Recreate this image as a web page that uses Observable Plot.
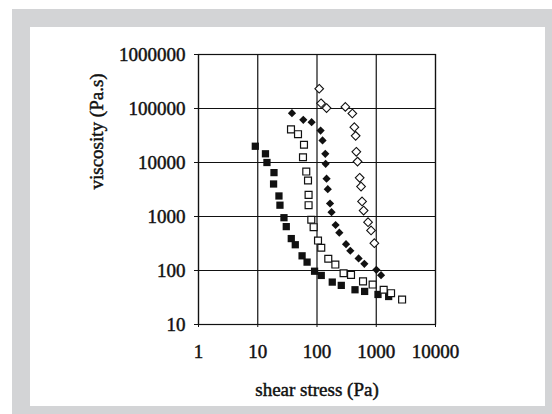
<!DOCTYPE html>
<html>
<head>
<meta charset="utf-8">
<script src="https://cdn.jsdelivr.net/npm/d3@7"></script>
<script src="https://cdn.jsdelivr.net/npm/@observablehq/plot@0.6"></script>
<style>
  html, body { margin: 0; padding: 0; background: #ffffff; }
  #wrap { position: relative; width: 552px; height: 414px; overflow: hidden; background: #ffffff; }
  #outer { position: absolute; left: 12px; top: 9px; width: 540px; height: 405px; background: #d3d4d6; }
  #inner { position: absolute; left: 30px; top: 27px; width: 515px; height: 379px; background: #ffffff; }
  #chart { position: absolute; left: 0; top: 0; }
  #chart svg text { stroke: #111; stroke-width: 0.45px; }
</style>
</head>
<body>
<div id="wrap">
  <div id="outer"></div>
  <div id="inner"></div>
  <div id="chart"></div>
</div>
<script>
// Tick values / labels
const xTicks = [1, 10, 100, 1000, 10000];
const yTicks = [10, 100, 1000, 10000, 100000, 1000000];
const xTitle = "shear stress (Pa)";
const yTitle = "viscosity (Pa.s)";

// Series 1: filled squares
const filledSquareX = [9.1, 13.5, 14.3, 18.8, 18.5, 22.8, 23.7, 27.7, 30.3, 36.8, 43, 56, 68, 91, 118, 181, 257, 438, 637, 1070, 1620];
const filledSquareY = [20000, 14500, 10000, 6500, 4000, 2400, 1620, 950, 650, 390, 300, 187, 143, 97, 81, 61, 53, 44, 41, 36, 33];

// Series 2: open squares
const openSquareX = [36.4, 47.8, 60.3, 58, 65.9, 70.5, 72.1, 72.1, 80.1, 87.7, 104, 118, 155, 204, 281, 375, 598, 869, 1334, 1778, 2730];
const openSquareY = [41000, 33400, 21300, 12500, 6800, 4640, 2520, 1620, 870, 634, 359, 264, 165, 129, 89, 83, 63, 55, 44, 38, 29];

// Series 3: filled diamonds
const filledDiamondX = [37.8, 58.7, 81.1, 115, 124, 138, 140, 145, 152, 166, 176, 206, 238, 309, 365, 504, 630, 1004, 1205];
const filledDiamondY = [82000, 61800, 55800, 39100, 25600, 14500, 9460, 5010, 3200, 1740, 1200, 696, 501, 307, 232, 167, 133, 103, 82];

// Series 4: open diamonds
const openDiamondX = [109, 117, 145, 301, 395, 427, 449, 461, 483, 525, 554, 576, 612, 727, 817, 929];
const openDiamondY = [232000, 125000, 102000, 107000, 80800, 45000, 31200, 15800, 10400, 5210, 3590, 1900, 1290, 784, 551, 320];

const toRows = (xs, ys) => xs.map((x, i) => ({x, y: ys[i]}));
const s1 = toRows(filledSquareX, filledSquareY);
const s2 = toRows(openSquareX, openSquareY);
const s3 = toRows(filledDiamondX, filledDiamondY);
const s4 = toRows(openDiamondX, openDiamondY);

const ink = "#111";
const fmt = d => String(d);

const chart = Plot.plot({
  width: 552,
  height: 414,
  marginLeft: 198,
  marginRight: 117,
  marginTop: 54,
  marginBottom: 90,
  style: {background: "transparent", fontFamily: "'Liberation Serif', 'Times New Roman', serif", fontSize: "19px", color: ink, overflow: "visible"},
  x: {type: "log", domain: [1, 10000]},
  y: {type: "log", domain: [10, 1000000]},
  marks: [
    Plot.gridX(xTicks, {stroke: ink, strokeOpacity: 1, strokeWidth: 1.2}),
    Plot.gridY(yTicks, {stroke: ink, strokeOpacity: 1, strokeWidth: 1.2}),
    Plot.frame({stroke: ink, strokeWidth: 1.2}),
    Plot.axisX(xTicks, {tickSize: 3, tickPadding: 17, tickFormat: fmt, label: null, fontSize: 19, stroke: ink}),
    Plot.axisY(yTicks, {tickSize: 4, tickPadding: 9, tickFormat: fmt, label: null, fontSize: 19, stroke: ink}),
    Plot.dot(s1, {x: "x", y: "y", symbol: "square", r: 4.1, fill: ink, stroke: "none"}),
    Plot.dot(s2, {x: "x", y: "y", symbol: "square", r: 3.9, fill: "white", stroke: ink, strokeWidth: 1.2}),
    Plot.dot(s3, {x: "x", y: "y", symbol: "diamond2", r: 3.7, fill: ink, stroke: "none"}),
    Plot.dot(s4, {x: "x", y: "y", symbol: "diamond2", r: 3.9, fill: "white", stroke: ink, strokeWidth: 1.1}),
    Plot.text([xTitle], {text: d => d, frameAnchor: "bottom", dy: 65, fontSize: 19, fill: ink, lineAnchor: "middle"}),
    Plot.text([yTitle], {text: d => d, frameAnchor: "left", dx: -102, rotate: -90, fontSize: 19, fill: ink, lineAnchor: "middle"})
  ]
});
document.getElementById("chart").appendChild(chart);
</script>
</body>
</html>
